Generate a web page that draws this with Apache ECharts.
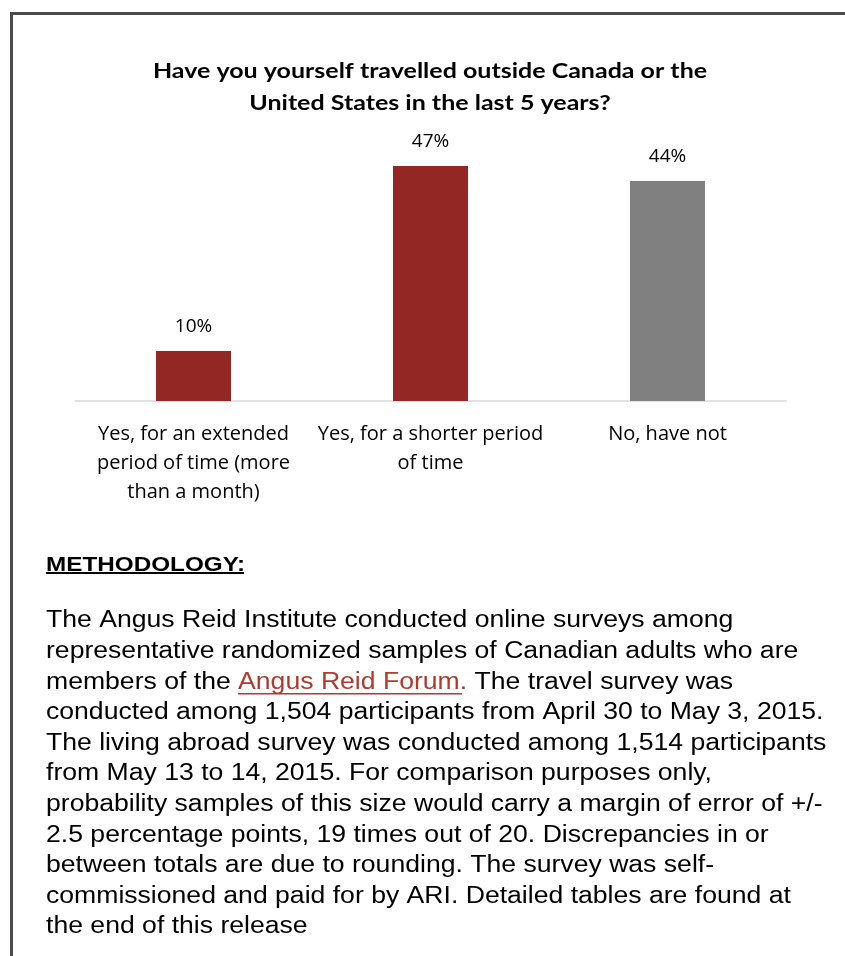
<!DOCTYPE html>
<html>
<head>
<meta charset="utf-8">
<script src="https://cdn.jsdelivr.net/npm/echarts@6/dist/echarts.min.js"></script>
<style>
html,body{margin:0;padding:0;background:#fff;}
#chart{width:845px;height:956px;}
</style>
</head>
<body>
<div id="chart"></div>
<script>
const titleLines = ['Have you yourself travelled outside Canada or the', 'United States in the last 5 years?'];
const categories = ['Yes, for an extended\nperiod of time (more\nthan a month)', 'Yes, for a shorter period\nof time', 'No, have not'];
const values = [10, 47, 44];
const barColors = ['#922723', '#922723', '#808080'];
const methodHeading = 'METHODOLOGY:';
const methodLines = [
  'The Angus Reid Institute conducted online surveys among',
  'representative randomized samples of Canadian adults who are',
  null,
  'conducted among 1,504 participants from April 30 to May 3, 2015.',
  'The living abroad survey was conducted among 1,514 participants',
  'from May 13 to 14, 2015. For comparison purposes only,',
  'probability samples of this size would carry a margin of error of +/-',
  '2.5 percentage points, 19 times out of 20. Discrepancies in or',
  'between totals are due to rounding. The survey was self-',
  'commissioned and paid for by ARI. Detailed tables are found at',
  'the end of this release'
];
const line3 = ['members of the ', 'Angus Reid Forum.', ' The travel survey was'];

const chart = echarts.init(document.getElementById('chart'), null, {renderer: 'canvas'});

const bodyFont = '"Liberation Sans", Arial, sans-serif';
const bodySize = 23;
const lineH = 30.6;
const firstY = 621;
const sx = 1.156;

const graphics = [];
// border
graphics.push({type: 'rect', shape: {x: 10, y: 12, width: 3, height: 944}, style: {fill: '#4a4a4a'}});
graphics.push({type: 'rect', shape: {x: 10, y: 12, width: 835, height: 3}, style: {fill: '#4a4a4a'}});
// title
titleLines.forEach((t, i) => {
  graphics.push({type: 'group', x: 430, y: 72 + i * 31.5, scaleX: 1.25, children: [
    {type: 'text', x: 0, y: 0, style: {text: t, font: 'bold 20px Lato, sans-serif', fill: '#000', align: 'center', verticalAlign: 'middle', textAlign: 'center', textVerticalAlign: 'middle'}}
  ]});
});
// methodology
const bodyChildren = [];
bodyChildren.push({type: 'text', x: 0, y: 565, style: {text: methodHeading, font: 'bold 21px ' + bodyFont, fill: '#000', verticalAlign: 'middle', textVerticalAlign: 'middle'}});
methodLines.forEach((t, i) => {
  const y = firstY + i * lineH;
  if (t === null) {
    bodyChildren.push({type: 'text', x: 0, y: y, style: {
      text: '{a|' + line3[0] + '}{b|' + line3[1] + '}{a|' + line3[2] + '}',
      font: bodySize + 'px ' + bodyFont, verticalAlign: 'middle', textVerticalAlign: 'middle',
      rich: {a: {fill: '#000', font: bodySize + 'px ' + bodyFont}, b: {fill: '#b03a2e', font: bodySize + 'px ' + bodyFont}}
    }});
  } else {
    bodyChildren.push({type: 'text', x: 0, y: y, style: {text: t, font: bodySize + 'px ' + bodyFont, fill: '#000', verticalAlign: 'middle', textVerticalAlign: 'middle'}});
  }
});
graphics.push({type: 'group', x: 46, y: 0, scaleX: sx, children: bodyChildren});
// underlines
graphics.push({type: 'rect', shape: {x: 46, y: 572, width: 198, height: 2}, style: {fill: '#000'}});
graphics.push({type: 'rect', shape: {x: 238, y: 693, width: 224, height: 1.5}, style: {fill: '#b03a2e'}});

chart.setOption({
  animation: false,
  backgroundColor: '#fff',
  grid: {left: 75, right: 59, top: 151, bottom: 555, containLabel: false},
  xAxis: {
    type: 'category', data: categories,
    axisLine: {lineStyle: {color: '#d9d9d9', width: 1.5}},
    axisTick: {show: false},
    axisLabel: {margin: 19, fontFamily: '"Open Sans", sans-serif', fontSize: 20, lineHeight: 29, color: '#000', interval: 0}
  },
  yAxis: {type: 'value', min: 0, max: 50, show: false, splitLine: {show: false}},
  series: [{
    type: 'bar', barWidth: 75,
    data: values.map((v, i) => ({value: v, itemStyle: {color: barColors[i]}})),
    label: {show: true, position: 'top', distance: 15, formatter: '{c}%', fontFamily: '"Open Sans", sans-serif', fontSize: 19, color: '#000'}
  }],
  graphic: graphics
});
</script>
</body>
</html>
